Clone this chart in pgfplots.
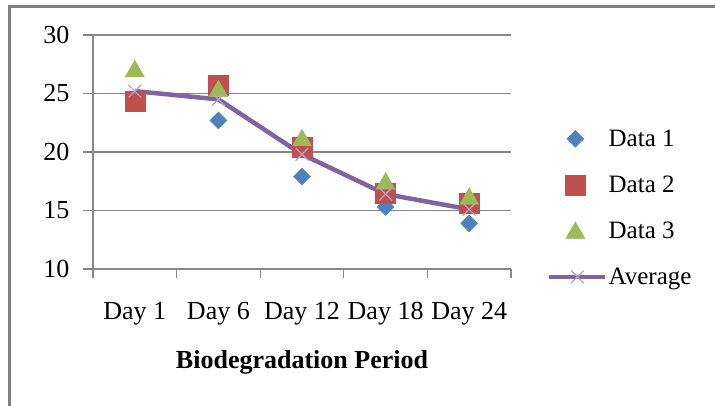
\documentclass[border=0pt]{standalone}
\usepackage{pgfplots}
\pgfplotsset{compat=1.18}
\usepackage{fontspec}
\setmainfont{Liberation Serif}
\definecolor{cA}{HTML}{4F81BD}
\definecolor{cB}{HTML}{C0504D}
\definecolor{cC}{HTML}{9BBB59}
\definecolor{cD}{HTML}{8064A2}
\definecolor{cDx}{HTML}{B3A2C7}
\definecolor{gridg}{HTML}{878787}
\pgfplotsset{
  onemark/.style={legend image code/.code={\draw[##1] plot coordinates {(26pt,0pt)};}},
  onemarktri/.style={legend image code/.code={\draw[##1] plot coordinates {(26pt,-2pt)};}},
  linemark/.style={legend image code/.code={\draw[mark repeat=2,mark phase=2,##1] plot coordinates {(0pt,0pt) (28pt,0pt) (56pt,0pt)};}},
}
\begin{document}
\begin{tikzpicture}[x=1pt,y=1pt]
\useasboundingbox (0,0) rectangle (715,406);
\draw[line width=2.5pt, color=gray] (9.5,-5) -- (9.5,399.5) -- (720,399.5);
\begin{axis}[
  at={(93pt,137pt)}, anchor=south west,
  scale only axis, width=418pt, height=234pt,
  xmin=0.5, xmax=5.5, ymin=10, ymax=30,
  xtick={1,...,5}, xticklabels={Day 1,Day 6,Day 12,Day 18,Day 24},
  minor xtick={0.5,1.5,...,5.5},
  ytick={10,15,...,30},
  axis x line*=bottom, axis y line*=left,
  axis line style={-, gridg, line width=1.3pt},
  ymajorgrids, grid style={gridg, line width=1.3pt},
  tick align=outside,
  major tick length=10pt, minor tick length=9pt,
  tick style={gridg, line width=1.3pt},
  major x tick style={draw=none},
  /pgf/number format/assume math mode=true,
  ticklabel style={font=\fontsize{26}{28}\selectfont},
  yticklabel style={xshift=-10pt},
  xticklabel style={yshift=-20pt},
  xlabel={\textbf{Biodegradation Period}},
  xlabel style={font=\fontsize{26}{28}\selectfont, yshift=-18pt},
  clip=false,
  legend style={at={(rel axis cs:1.086,0.60)}, anchor=north west, draw=none, fill=none,
    inner sep=0pt, row sep=26pt, font=\fontsize{25}{27}\selectfont,
    nodes={inner sep=1pt, anchor=west}},
  legend cell align=left,
]
\addplot[only marks, mark=square*, mark options={rotate=45}, mark size=6pt, color=cA, onemark]
  coordinates {(1,24.4) (2,22.7) (3,17.9) (4,15.3) (5,13.9)};
\addlegendentry{Data 1}
\addplot[only marks, mark=square*, mark size=10pt, color=cB, onemark]
  coordinates {(1,24.3) (2,25.7) (3,20.4) (4,16.5) (5,15.6)};
\addlegendentry{Data 2}
\addplot[only marks, mark=triangle*, mark size=11pt, color=cC, onemarktri]
  coordinates {(1,26.9) (2,25.2) (3,21.0) (4,17.3) (5,16.0)};
\addlegendentry{Data 3}
\addplot[cD, line width=4.5pt, mark=x, mark size=9pt, mark options={cDx, line width=1.2pt}, linemark]
  coordinates {(1,25.2) (2,24.5) (3,19.8) (4,16.4) (5,15.1)};
\addlegendentry{Average}
\end{axis}
\end{tikzpicture}
\end{document}
